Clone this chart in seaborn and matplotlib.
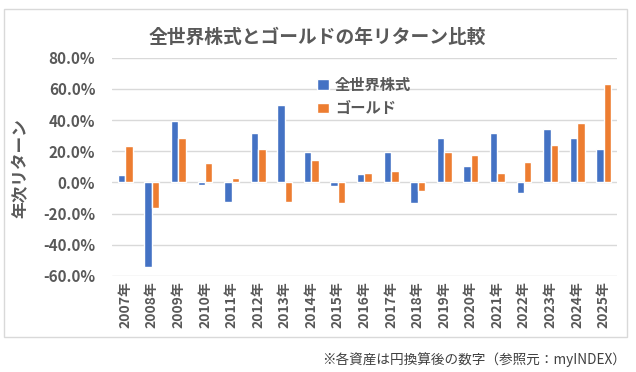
import numpy as np
import pandas as pd
import seaborn as sns
import matplotlib.pyplot as plt
from matplotlib.patches import Rectangle
from matplotlib.ticker import FuncFormatter

years = ['2007年', '2008年', '2009年', '2010年', '2011年', '2012年', '2013年',
         '2014年', '2015年', '2016年', '2017年', '2018年', '2019年', '2020年',
         '2021年', '2022年', '2023年', '2024年', '2025年']
stocks = [4.9, -54.0, 39.4, -1.7, -12.7, 31.6, 49.7, 19.8, -2.6, 5.2,
          19.8, -12.9, 28.4, 10.8, 31.4, -6.9, 34.0, 28.8, 21.3]
gold = [23.4, -16.3, 28.6, 12.7, 2.8, 21.5, -12.7, 14.4, -12.9, 5.8,
        7.3, -5.6, 19.8, 17.6, 6.0, 13.3, 24.1, 38.3, 63.4]
series_names = ['全世界株式', 'ゴールド']

df = pd.DataFrame({
    'year': years * 2,
    'ret': stocks + gold,
    'asset': [series_names[0]] * len(years) + [series_names[1]] * len(years),
})

sns.set_style('white')
plt.rcParams['font.family'] = ['Noto Sans CJK JP', 'DejaVu Sans']
gray = '#595959'

fig = plt.figure(figsize=(6.36, 3.72), dpi=100)
ax = fig.add_axes([112 / 636, 1 - 276 / 372, 505 / 636, (276 - 57.7) / 372])

# chart border
fig.patches.append(Rectangle((4 / 636, 1 - 337 / 372), 623 / 636, 328 / 372,
                             transform=fig.transFigure, fill=False,
                             edgecolor='#D9D9D9', linewidth=1))

sns.barplot(data=df, x='year', y='ret', hue='asset', ax=ax, width=0.56,
            palette=['#4472C4', '#ED7D31'], saturation=1, legend=True)

ax.set_ylim(-60, 80)
ax.set_yticks(np.arange(-60, 81, 20))
ax.yaxis.set_major_formatter(FuncFormatter(lambda v, p: '{:.1f}%'.format(v)))
ax.grid(axis='y', color='#D9D9D9', linewidth=1)
ax.set_axisbelow(True)
for s in ax.spines.values():
    s.set_visible(False)
ax.set_xlim(-0.5, len(years) - 0.5)

ax.tick_params(axis='y', labelsize=11, colors=gray, length=0, pad=12)
ax.tick_params(axis='x', labelsize=10, colors=gray, length=0, pad=4, rotation=90)
for t in ax.get_yticklabels() + ax.get_xticklabels():
    t.set_fontweight('bold')
ax.set_xlabel('')
ax.set_ylabel('')

fig.text(21 / 636, 1 - 168 / 372, '年次リターン', rotation=90, ha='center', va='center',
         fontsize=12, fontweight='bold', color=gray)
fig.text(317 / 636, 1 - 37 / 372, '全世界株式とゴールドの年リターン比較', ha='center',
         va='center', fontsize=13.5, fontweight='bold', color=gray)
fig.text(626 / 636, 1 - 360 / 372, '※各資産は円換算後の数字（参照元：myINDEX）',
         ha='right', va='center', fontsize=9.8, color='#404040')

leg = ax.legend(loc='upper left', bbox_to_anchor=(309 / 636, 1 - 69 / 372),
                bbox_transform=fig.transFigure, frameon=False, borderpad=0,
                handlelength=0.8, handleheight=0.7, handletextpad=0.4,
                labelspacing=0.5, prop={'size': 11, 'weight': 'bold'})
for t in leg.get_texts():
    t.set_color(gray)

fig.savefig('out.png', dpi=100)
